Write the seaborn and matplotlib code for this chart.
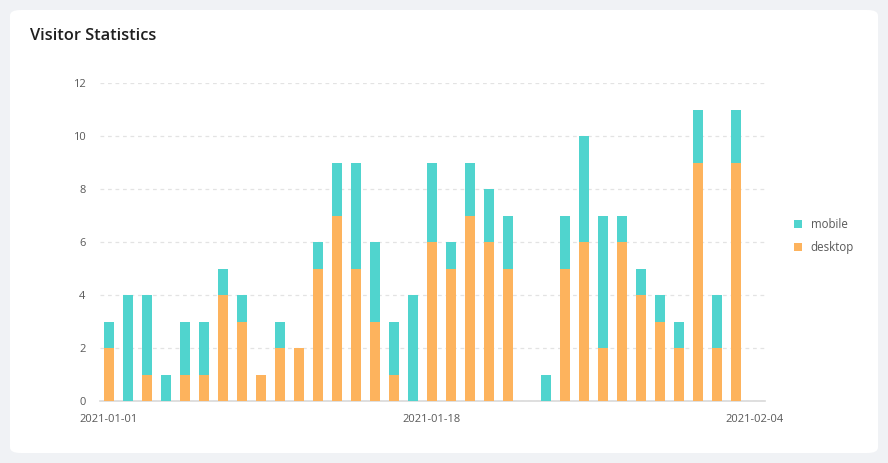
import matplotlib
matplotlib.use("Agg")
import matplotlib.pyplot as plt
from matplotlib.patches import FancyBboxPatch, Patch
import seaborn as sns
import pandas as pd

dates = pd.date_range("2021-01-01", "2021-02-03").strftime("%Y-%m-%d").tolist()
desktop = [2, 0, 1, 0, 1, 1, 4, 3, 1, 2, 2, 5, 7, 5, 3, 1, 0,
           6, 5, 7, 6, 5, 0, 0, 5, 6, 2, 6, 4, 3, 2, 9, 2, 9]
mobile = [1, 4, 3, 1, 2, 2, 1, 1, 0, 1, 0, 1, 2, 4, 3, 2, 4,
          3, 1, 2, 2, 2, 0, 1, 2, 4, 5, 1, 1, 1, 1, 2, 2, 2]
tick_labels = ["2021-01-01", "2021-01-18", "2021-02-04"]
y_ticks = [0, 2, 4, 6, 8, 10, 12]
series_names = ["mobile", "desktop"]

TEAL = "#50D4CE"
ORANGE = "#FDB35D"
TXT = "#595959"

df = pd.DataFrame({"date": dates, "desktop": desktop, "mobile": mobile})
df["total"] = df["desktop"] + df["mobile"]

sns.set_theme(style="white")
plt.rcParams["font.family"] = ["Open Sans", "DejaVu Sans"]

fig = plt.figure(figsize=(8.88, 4.63), dpi=100)
fig.patch.set_facecolor("#F0F2F5")
card = FancyBboxPatch((10 / 888, 10 / 463), 868 / 888, 443 / 463,
                      boxstyle="round,pad=0,rounding_size=0.012",
                      transform=fig.transFigure, facecolor="white",
                      edgecolor="none", zorder=-10)
fig.patches.append(card)

fig.text(30 / 888, 1 - 36 / 463, "Visitor Statistics", fontsize=11.8,
         fontweight="semibold", color="#1F1F1F", va="center", ha="left")

ax = fig.add_axes([99.5 / 888, 62 / 463, 665 / 888, 318 / 463])
ax.set_facecolor("none")

sns.barplot(data=df, x="date", y="total", order=dates, color=TEAL,
            saturation=1, width=0.52, linewidth=0, ax=ax, zorder=3)
sns.barplot(data=df, x="date", y="desktop", order=dates, color=ORANGE,
            saturation=1, width=0.52, linewidth=0, ax=ax, zorder=4)

ax.set_xlim(-0.5, 34.5)
ax.set_ylim(0, 12)
ax.set_xticks([0, 17, 34])
ax.set_xticklabels(tick_labels)
ax.set_yticks(y_ticks)
ax.set_yticklabels([str(v) for v in y_ticks])
ax.set_xlabel("")
ax.set_ylabel("")

for s in ["top", "right", "left"]:
    ax.spines[s].set_visible(False)
ax.spines["bottom"].set_color("#D9D9D9")
ax.spines["bottom"].set_linewidth(1.2)

ax.yaxis.grid(True, color="#E3E3E3", linestyle=(0, (3, 3)), linewidth=0.9, zorder=0)
ax.set_axisbelow(True)
ax.tick_params(axis="y", length=0, pad=10, labelsize=8, labelcolor=TXT)
ax.tick_params(axis="x", length=4, width=1, color="#C8C8C8", pad=5,
               labelsize=8, labelcolor=TXT, direction="out")

handles = [Patch(facecolor=TEAL, edgecolor="none"),
           Patch(facecolor=ORANGE, edgecolor="none")]
fig.legend(handles, series_names, loc="center left",
           bbox_to_anchor=(784 / 888, 1 - 236 / 463), frameon=False,
           fontsize=8.3, labelcolor=TXT, handlelength=0.7, handleheight=0.7,
           handletextpad=0.7, labelspacing=0.9)

fig.savefig("out.png", dpi=100, facecolor=fig.get_facecolor())
